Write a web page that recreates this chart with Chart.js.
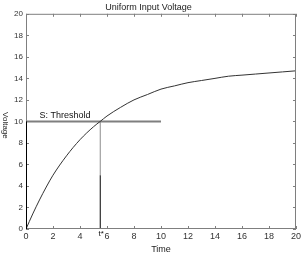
<!DOCTYPE html>
<html>
<head>
<meta charset="utf-8">
<script src="https://cdn.jsdelivr.net/npm/chart.js@4"></script>
<style>
  html, body { margin: 0; padding: 0; background: #fff; }
  #wrap { width: 303px; height: 257px; }
</style>
</head>
<body>
<div id="wrap"><canvas id="chart" width="303" height="257"></canvas></div>
<script>
// values
const timeValues = [0, 0.5, 1, 1.5, 2, 3, 4, 5, 5.5, 6, 7, 8, 9, 10, 11, 12, 13, 14, 15, 16, 17, 18, 19, 20];
const voltageValues = [0, 1.4, 2.7, 3.9, 5.0, 6.8, 8.3, 9.5, 10.0, 10.5, 11.3, 12.0, 12.5, 13.0, 13.3, 13.6, 13.8, 14.0, 14.2, 14.3, 14.4, 14.5, 14.6, 14.7];
const xTicks = [0, 2, 4, 6, 8, 10, 12, 14, 16, 18, 20];
const yTicks = [0, 2, 4, 6, 8, 10, 12, 14, 16, 18, 20];
const threshold = 10;
const thresholdEnd = 10;
const crossTime = 5.5;
const crossSplit = 5;

const axisGray = "#7f7f7f";
const font = "'Liberation Sans', Arial, sans-serif";

const curve = timeValues.map((t, i) => ({x: t, y: voltageValues[i]}));

// inward ticks, box, extra labels
const matlabAxes = {
  id: "matlabAxes",
  afterDraw(chart) {
    const ctx = chart.ctx;
    const a = chart.chartArea;
    const xs = chart.scales.x, ys = chart.scales.y;
    ctx.save();
    ctx.strokeStyle = axisGray;
    ctx.lineWidth = 1;
    ctx.strokeRect(a.left + 0.5, a.top + 0.5, a.right - a.left - 1, a.bottom - a.top - 1);
    ctx.beginPath();
    xTicks.forEach(v => {
      const px = Math.round(xs.getPixelForValue(v)) + 0.5;
      ctx.moveTo(px, a.bottom); ctx.lineTo(px, a.bottom - 3);
      ctx.moveTo(px, a.top); ctx.lineTo(px, a.top + 3);
    });
    yTicks.forEach(v => {
      const py = Math.round(ys.getPixelForValue(v)) + 0.5;
      ctx.moveTo(a.left, py); ctx.lineTo(a.left + 3, py);
      ctx.moveTo(a.right, py); ctx.lineTo(a.right - 3, py);
    });
    ctx.stroke();
    // black part of left axis
    ctx.strokeStyle = "#000";
    ctx.lineWidth = 1;
    ctx.beginPath();
    ctx.moveTo(a.left + 0.5, ys.getPixelForValue(0));
    ctx.lineTo(a.left + 0.5, ys.getPixelForValue(threshold));
    ctx.stroke();
    // threshold label
    ctx.fillStyle = "#111";
    ctx.font = "9px " + font;
    ctx.textAlign = "left";
    ctx.textBaseline = "bottom";
    ctx.fillText("S: Threshold", xs.getPixelForValue(1), ys.getPixelForValue(threshold) - 1);
    // t* label
    ctx.font = "8px " + font;
    ctx.textBaseline = "top";
    ctx.textAlign = "center";
    ctx.fillText("t*", xs.getPixelForValue(crossTime) + 1, a.bottom + 1);
    // y title, rotated clockwise
    ctx.translate(5, (a.top + a.bottom) / 2 + 4);
    ctx.rotate(Math.PI / 2);
    ctx.textAlign = "center";
    ctx.textBaseline = "middle";
    ctx.font = "8px " + font;
    ctx.fillStyle = "#222";
    ctx.fillText("Voltage", 0, 0);
    ctx.restore();
  }
};

new Chart(document.getElementById("chart"), {
  type: "line",
  data: {
    datasets: [
      {data: curve, borderColor: "#333", borderWidth: 1, pointRadius: 0, cubicInterpolationMode: "monotone"},
      {data: [{x: 0, y: threshold}, {x: thresholdEnd, y: threshold}], borderColor: axisGray, borderWidth: 2, pointRadius: 0},
      {data: [{x: crossTime, y: crossSplit}, {x: crossTime, y: threshold}], borderColor: "#8c8c8c", borderWidth: 1, pointRadius: 0},
      {data: [{x: crossTime, y: 0}, {x: crossTime, y: crossSplit}], borderColor: "#000", borderWidth: 1, pointRadius: 0}
    ]
  },
  options: {
    responsive: false,
    animation: false,
    events: [],
    layout: {padding: {left: 0, right: 6, top: 0, bottom: 0}},
    plugins: {
      legend: {display: false},
      tooltip: {enabled: false},
      title: {
        display: true,
        text: "Uniform Input Voltage",
        color: "#222",
        font: {family: font, size: 9, weight: "normal"},
        padding: {top: 2, bottom: 1}
      }
    },
    scales: {
      x: {
        type: "linear", min: 0, max: 20,
        grid: {display: false, drawTicks: false},
        border: {display: false},
        afterFit: s => { s.height = 28; },
        afterBuildTicks: s => { s.ticks = xTicks.map(v => ({value: v})); },
        ticks: {color: "#333", font: {family: font, size: 9}, padding: 2, maxRotation: 0},
        title: {display: true, text: "Time", color: "#222", font: {family: font, size: 9}, padding: {top: 0, bottom: 2}}
      },
      y: {
        type: "linear", min: 0, max: 20,
        grid: {display: false, drawTicks: false},
        border: {display: false},
        afterFit: s => { s.width = 26; },
        afterBuildTicks: s => { s.ticks = yTicks.map(v => ({value: v})); },
        ticks: {color: "#333", font: {family: font, size: 8}, padding: 3}
      }
    }
  },
  plugins: [matlabAxes]
});
</script>
</body>
</html>
